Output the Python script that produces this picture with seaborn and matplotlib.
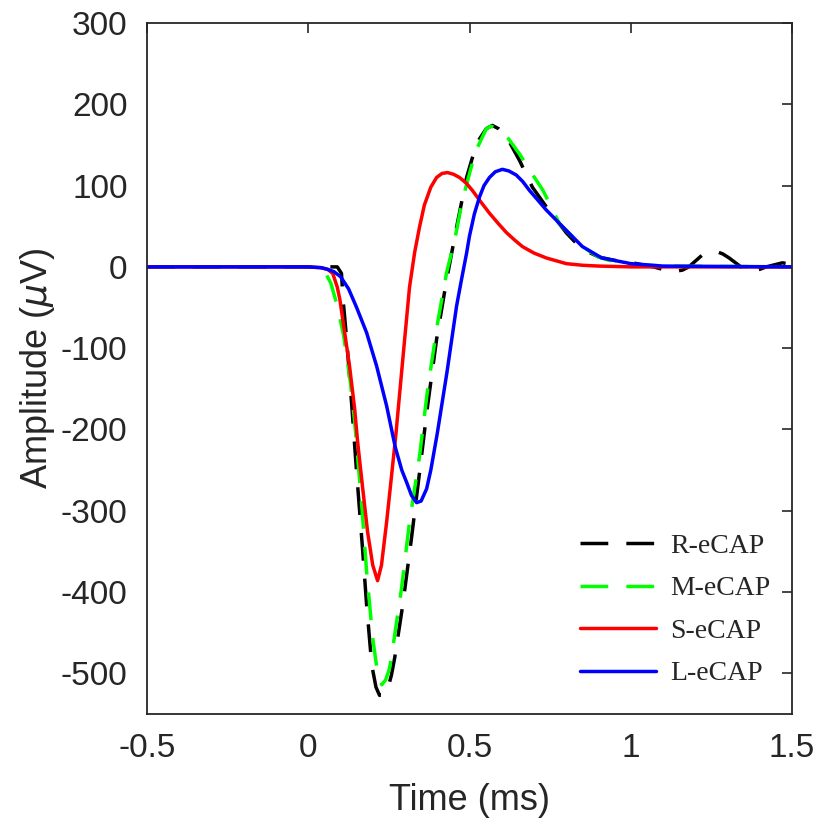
import numpy as np
import pandas as pd
import matplotlib
matplotlib.use("Agg")
import matplotlib.pyplot as plt
import seaborn as sns

# ---------------- data ----------------
names = ["R-eCAP", "M-eCAP", "S-eCAP", "L-eCAP"]

t_r = [-0.5, 0.0, 0.09, 0.103, 0.108, 0.119, 0.135, 0.15, 0.168, 0.181, 0.197, 0.21, 0.221, 0.235,
       0.246, 0.258, 0.268, 0.293, 0.32, 0.345, 0.37, 0.398, 0.429, 0.46, 0.491, 0.522,
       0.552, 0.571, 0.59, 0.615, 0.655, 0.695, 0.738, 0.769, 0.80, 0.831, 0.87, 0.902,
       0.95, 1.005, 1.07, 1.128, 1.16, 1.18, 1.22, 1.245, 1.265, 1.285, 1.305, 1.345, 1.376, 1.40,
       1.42, 1.47, 1.5]
a_r = [0, 0, 0, -8, -40, -89, -171, -253, -345, -416, -490, -517, -527, -527,
       -520, -502, -481, -416, -334, -253, -171, -89, -16, 49, 110, 152,
       170, 174, 170, 160, 131, 98, 74, 58, 42, 29, 18, 12,
       8, 5, 0, -6, -4, 0, 14, 18, 19, 16, 11, -1, -6, -3,
       0, 5, 3]

t_m = [-0.5, 0.0, 0.03, 0.05, 0.07, 0.09, 0.11, 0.13, 0.144, 0.166, 0.181, 0.20, 0.215, 0.228,
       0.24, 0.252, 0.262, 0.289, 0.314, 0.345, 0.37, 0.401, 0.429, 0.454, 0.478, 0.50, 0.52, 0.552,
       0.567, 0.59, 0.62, 0.655, 0.69, 0.728, 0.779, 0.85, 0.90, 0.95, 1.0, 1.1, 1.5]
a_m = [0, 0, -1, -5, -20, -48, -85, -140, -191, -294, -375, -457, -500, -514,
       -508, -494, -469, -396, -314, -233, -151, -69, -7, 33, 82, 115, 143, 170,
       173, 170, 158, 139, 117, 94, 53, 25, 12, 6, 3, 1, 0]

t_s = [-0.5, 0.0, 0.04, 0.06, 0.076, 0.09, 0.098, 0.113, 0.128, 0.144, 0.153, 0.169, 0.184, 0.20,
       0.215, 0.227, 0.243, 0.258, 0.272, 0.294, 0.314, 0.33, 0.345, 0.36, 0.38, 0.398, 0.415,
       0.432, 0.45, 0.469, 0.49, 0.509, 0.535, 0.562, 0.59, 0.615, 0.64, 0.664, 0.70, 0.738,
       0.80, 0.85, 0.90, 1.0, 1.5]
a_s = [0, 0, -1, -3, -8, -25, -40, -81, -122, -175, -215, -273, -326, -367,
       -386, -367, -314, -258, -205, -110, -25, 18, 49, 76, 98, 110, 115,
       116, 114, 110, 103, 94, 80, 66, 53, 42, 33, 25, 17, 11,
       4, 2, 1, 0, 0]

t_l = [-0.5, 0.0, 0.04, 0.06, 0.08, 0.10, 0.125, 0.15, 0.181, 0.212, 0.243, 0.27, 0.29, 0.305,
       0.32, 0.336, 0.35, 0.367, 0.38, 0.40, 0.43, 0.46, 0.475, 0.491, 0.50, 0.515, 0.531, 0.545,
       0.562, 0.58, 0.602, 0.622, 0.645, 0.665, 0.686, 0.71, 0.738, 0.79, 0.85, 0.91, 1.0, 1.1, 1.5]
a_l = [0, 0, -1, -3, -6, -12, -27, -50, -81, -122, -171, -222, -250, -265,
       -281, -290, -288, -273, -250, -205, -130, -48, -16, 17, 38, 65, 86, 100,
       110, 117, 120, 118, 113, 105, 94, 83, 70, 49, 25, 11, 4, 1, 0]

x_ticks = [-0.5, 0, 0.5, 1, 1.5]
x_ticklabels = ["-0.5", "0", "0.5", "1", "1.5"]
y_ticks = [-500, -400, -300, -200, -100, 0, 100, 200, 300]

colors = {"R-eCAP": "#000000", "M-eCAP": "#00ff00", "S-eCAP": "#ff0000", "L-eCAP": "#0000ff"}
dashes = {"R-eCAP": (8, 5.2), "M-eCAP": (8, 5.2), "S-eCAP": "", "L-eCAP": ""}

df = pd.concat([
    pd.DataFrame({"t": t_r, "amp": a_r, "series": "R-eCAP"}),
    pd.DataFrame({"t": t_m, "amp": a_m, "series": "M-eCAP"}),
    pd.DataFrame({"t": t_s, "amp": a_s, "series": "S-eCAP"}),
    pd.DataFrame({"t": t_l, "amp": a_l, "series": "L-eCAP"}),
], ignore_index=True)

# ---------------- plot ----------------
sns.set_style("white")
plt.rcParams["font.family"] = ["Liberation Sans", "DejaVu Sans"]
plt.rcParams["axes.unicode_minus"] = False

fig = plt.figure(figsize=(8.18, 8.21), dpi=100)
ax = fig.add_axes([147 / 818, 1 - 714 / 821, 645 / 818, 691 / 821])

sns.lineplot(data=df, x="t", y="amp", hue="series", style="series", hue_order=names,
             style_order=names, palette=colors, dashes=dashes, linewidth=2.5,
             sort=False, estimator=None, legend=False, ax=ax)

ax.set_xlim(-0.5, 1.5)
ax.set_ylim(-550, 300)
ax.set_xticks(x_ticks)
ax.set_xticklabels(x_ticklabels)
ax.set_yticks(y_ticks)
ax.set_yticklabels([str(v) for v in y_ticks])

dark = "#262626"
ax.tick_params(direction="in", top=True, right=True, length=7, width=1.2,
               labelsize=24, colors=dark)
ax.tick_params(axis="x", pad=13.5)
ax.tick_params(axis="y", pad=14)
for sp in ax.spines.values():
    sp.set_linewidth(1.3)
    sp.set_color(dark)

ax.set_xlabel("Time (ms)", fontsize=26, color=dark, labelpad=14)
ax.set_ylabel(r"Amplitude ($\mu$V)", fontsize=26, color=dark, labelpad=3)

handles = ax.lines[:4]
leg = ax.legend(handles, names, loc="lower right", bbox_to_anchor=(1.005, 0.004),
                frameon=False, handlelength=2.75, handletextpad=0.5, labelspacing=0.61,
                prop={"family": "Liberation Serif", "size": 20})

fig.savefig("out.png", dpi=100)
